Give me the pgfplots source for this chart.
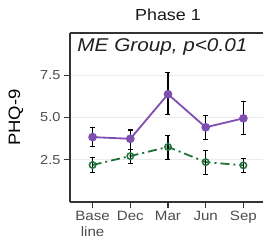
\documentclass[border=0pt]{standalone}
\usepackage{fontspec}
\setmainfont{Liberation Sans}[FakeStretch=1.12]
\usepackage{pgfplots}
\pgfplotsset{compat=1.18}
\definecolor{mypurple}{HTML}{7E4FB0}
\definecolor{mygreen}{HTML}{1D7338}
\definecolor{axgray}{HTML}{333333}
\definecolor{tickgray}{HTML}{4D4D4D}
\begin{document}
\begin{tikzpicture}
\begin{axis}[
 scale only axis, width=196pt, height=169pt,
 xmin=-0.6, xmax=4.6, ymin=0, ymax=10,
 axis x line*=bottom, axis y line*=left,
 axis line style={axgray, line width=1.1pt, -},
 xtick={0,1,2,3,4}, xticklabels={Base\\line,Dec,Mar,Jun,Sep},
 xticklabel style={align=center, font=\fontsize{13.5}{16}\selectfont, text=tickgray},
 ytick={2.5,5,7.5}, yticklabels={2.5,5.0,7.5},
 yticklabel style={font=\fontsize{13}{13}\selectfont, text=tickgray},
 /pgf/number format/assume math mode=true,
 tick align=outside, major tick length=6pt, tick style={axgray, line width=1.1pt},
 ymajorgrids, grid style={black!8, line width=1.1pt},
 every axis y label/.style={at={(axis description cs:-0.22,0.5)}, rotate=90, anchor=south, font=\fontsize{16.5}{16}\selectfont},
 ylabel={PHQ-9},
 title style={at={(axis description cs:0.5,1)}, anchor=base, yshift=7pt, font=\fontsize{16}{16}\selectfont, text=black!90},
 title={Phase 1},
 clip=false,
]
\draw[axgray, line width=1.1pt] (rel axis cs:0,1) -- (rel axis cs:1,1);
\node[anchor=west, font=\fontsize{18.5}{18}\selectfont\itshape, text=black!88] at (rel axis cs:0.02,0.92) {ME Group, p<0.01};
\addplot[mygreen, line width=1.8pt, dash pattern=on 9pt off 4pt on 2pt off 4pt,
  mark=o, mark size=3.2pt, mark options={solid, line width=1.5pt},
  error bars/.cd, y dir=both, y explicit,
  error bar style={black, line width=1.1pt, solid},
  error mark options={black, mark size=2.5pt, line width=1.1pt, solid, rotate=90}]
 coordinates {
 (0,2.19) += (0,0.45) -= (0,0.47)
 (1,2.72) += (0,0.41) -= (0,0.42)
 (2,3.26) += (0,0.67) -= (0,0.76)
 (3,2.36) += (0,0.69) -= (0,0.72)
 (4,2.17) += (0,0.39) -= (0,0.41)
 };
\addplot[mypurple, line width=1.8pt,
  mark=*, mark size=3.4pt, mark options={solid},
  error bars/.cd, y dir=both, y explicit,
  error bar style={black, line width=1.1pt},
  error mark options={black, mark size=2.5pt, line width=1.1pt, rotate=90}]
 coordinates {
 (0,3.84) += (0,0.56) -= (0,0.56)
 (1,3.74) += (0,0.52) -= (0,0.65)
 (2,6.38) += (0,1.26) -= (0,1.18)
 (3,4.42) += (0,0.69) -= (0,0.73)
 (4,4.95) += (0,0.98) -= (0,0.98)
 };
\end{axis}
\pgfresetboundingbox
\useasboundingbox (-70pt,-42pt) rectangle (193pt,202pt);
\end{tikzpicture}
\end{document}
